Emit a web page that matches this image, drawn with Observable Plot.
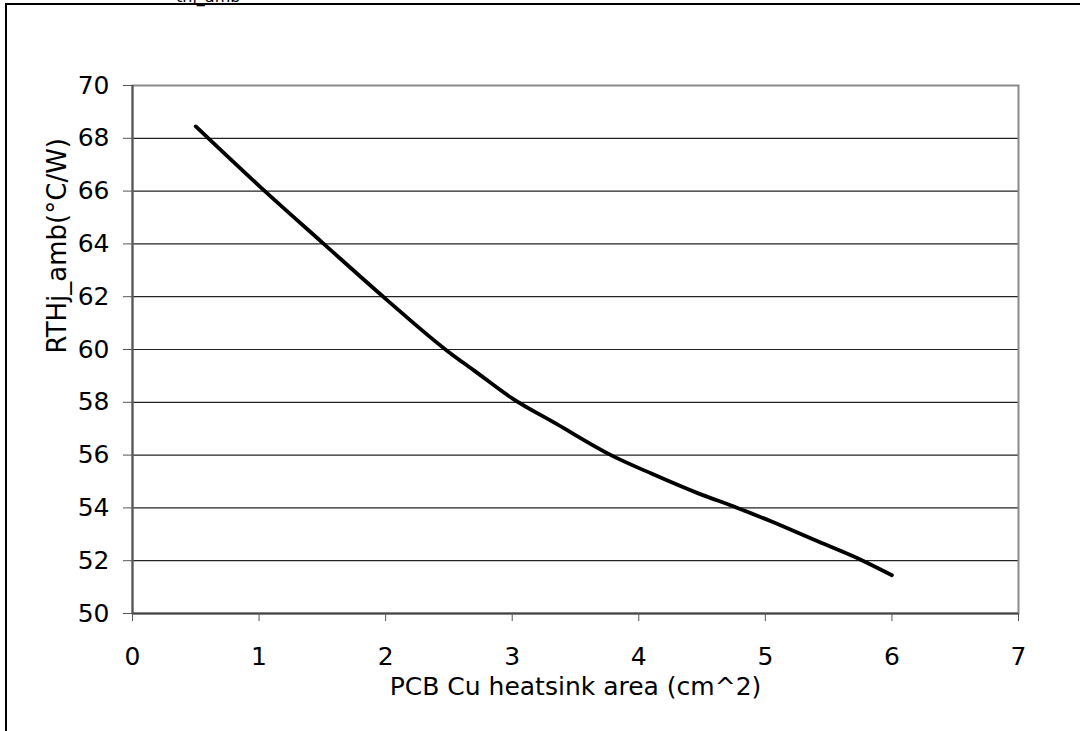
<!DOCTYPE html>
<html>
<head>
<meta charset="utf-8">
<script src="https://cdn.jsdelivr.net/npm/d3@7"></script>
<script src="https://cdn.jsdelivr.net/npm/@observablehq/plot@0.6"></script>
<style>
  html, body { margin: 0; padding: 0; background: #fff; }
  #wrap { position: relative; width: 1080px; height: 731px; overflow: hidden; background: #fff; }
  #frame { position: absolute; left: 5px; top: 3px; width: 1200px; height: 900px;
           border-left: 2px solid #000; border-top: 2px solid #000; pointer-events: none; }
  #cut { position: absolute; left: 176px; top: -11px; font: 16px "DejaVu Sans", sans-serif; line-height: 16px; color: #000; white-space: nowrap; }
  #chart { position: absolute; left: 0; top: 0; }
</style>
</head>
<body>
<div id="wrap">
  <div id="chart"></div>
  <div id="cut">thj_amb</div>
  <div id="frame"></div>
</div>
<script>
const areaCm2 = [0.5, 1.0, 1.5, 2.0, 2.5, 2.7, 3.0, 3.35, 3.78, 4.1, 4.47, 4.78, 5.04, 5.38, 5.77, 6.0];
const rthjAmb = [68.45, 66.2, 64.05, 61.92, 59.9, 59.2, 58.15, 57.18, 56.0, 55.3, 54.55, 54.0, 53.5, 52.8, 52.0, 51.45];
const xTicks = [0, 1, 2, 3, 4, 5, 6, 7];
const yTicks = [50, 52, 54, 56, 58, 60, 62, 64, 66, 68, 70];
const xLabel = "PCB Cu heatsink area (cm^2)";
const yLabel = "RTHj_amb(°C/W)";

const data = areaCm2.map((x, i) => ({x, y: rthjAmb[i]}));

const chart = Plot.plot({
  width: 1080,
  height: 731,
  marginLeft: 132,
  marginRight: 62,
  marginTop: 85,
  marginBottom: 118,
  style: {fontFamily: "DejaVu Sans, sans-serif", fontSize: "25px", color: "#000", background: "transparent"},
  x: {domain: [0, 7]},
  y: {domain: [50, 70]},
  marks: [
    Plot.gridY(yTicks, {stroke: "#222", strokeOpacity: 1, strokeWidth: 1.2}),
    Plot.frame({stroke: "#8a8a8a", strokeWidth: 2}),
    Plot.ruleX([0], {stroke: "#555", strokeWidth: 2}),
    Plot.ruleY([50], {stroke: "#444", strokeWidth: 2}),
    Plot.axisY(yTicks, {tickSize: 9, tickPadding: 14, label: null, stroke: "#555", fontSize: 25, fill: "#000", tickFormat: d => String(d)}),
    Plot.axisX(xTicks, {tickSize: 8, tickPadding: 26, label: null, stroke: "#555", fontSize: 25, fill: "#000", tickFormat: d => String(d)}),
    Plot.text([xLabel], {frameAnchor: "bottom", dy: 73, lineAnchor: "middle", fontSize: 25, fill: "#000"}),
    Plot.text([yLabel], {frameAnchor: "left", dx: -75, dy: 4, rotate: -90, lineAnchor: "middle", fontSize: 26, fill: "#000"}),
    Plot.line(data, {x: "x", y: "y", curve: "monotone-x", stroke: "#000", strokeWidth: 3.8, strokeLinecap: "round"})
  ]
});
document.getElementById("chart").appendChild(chart);
</script>
</body>
</html>
